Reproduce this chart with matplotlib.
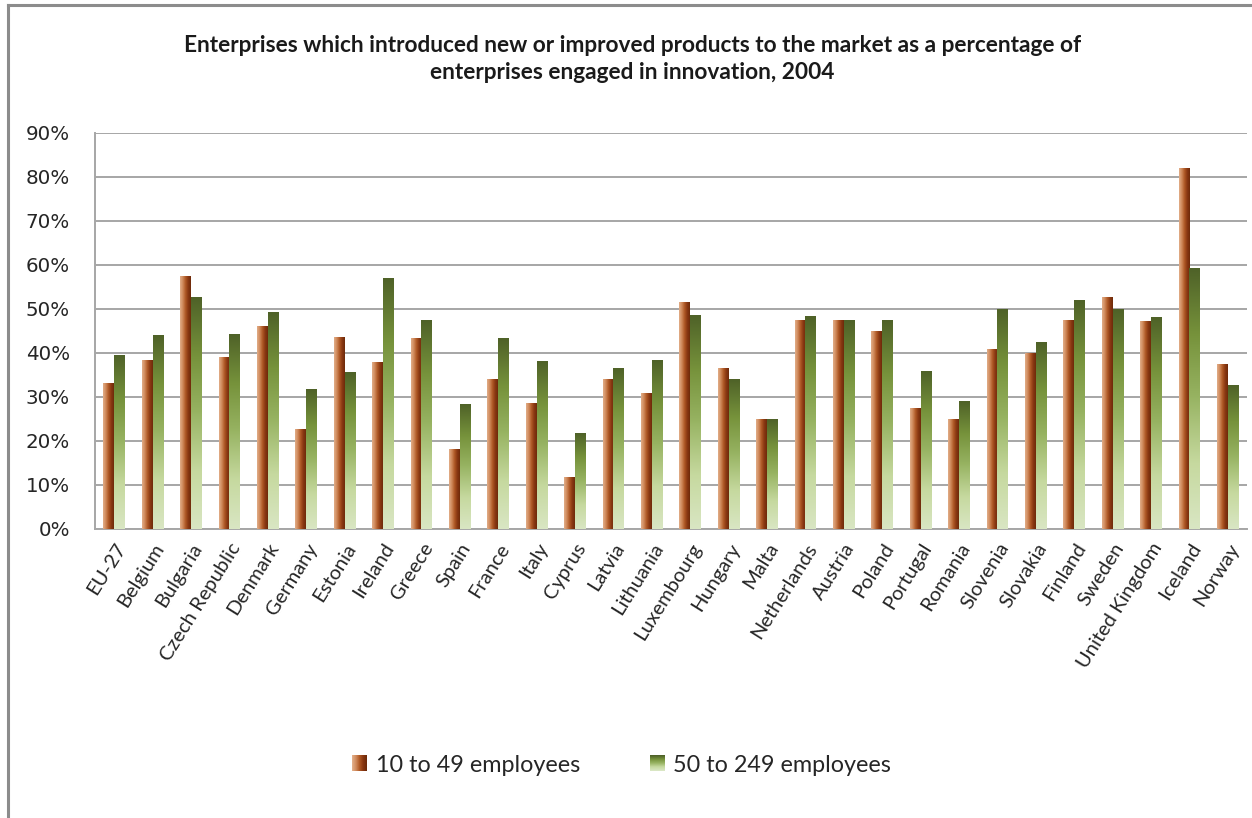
"""Enterprises introducing new or improved products, by size class, 2004."""

import matplotlib

matplotlib.use("Agg")
import matplotlib.pyplot as plt
import numpy as np
from matplotlib.colors import LinearSegmentedColormap
from matplotlib.lines import Line2D
from matplotlib.patches import Rectangle
from matplotlib.ticker import PercentFormatter

COUNTRIES = [
    "EU-27", "Belgium", "Bulgaria", "Czech Republic", "Denmark", "Germany",
    "Estonia", "Ireland", "Greece", "Spain", "France", "Italy", "Cyprus",
    "Latvia", "Lithuania", "Luxembourg", "Hungary", "Malta", "Netherlands",
    "Austria", "Poland", "Portugal", "Romania", "Slovenia", "Slovakia",
    "Finland", "Sweden", "United Kingdom", "Iceland", "Norway",
]
SMALL = [
    33.1, 38.4, 57.3, 39.0, 46.0, 22.7, 43.6, 37.8, 43.2, 18.0, 34.0, 28.6,
    11.6, 33.9, 30.7, 51.4, 36.4, 25.0, 47.5, 47.3, 44.8, 27.5, 25.0, 40.9,
    39.8, 47.5, 52.6, 47.1, 82.0, 37.5,
]
MEDIUM = [
    39.5, 43.9, 52.7, 44.2, 49.2, 31.7, 35.5, 57.0, 47.5, 28.2, 43.4, 38.0,
    21.8, 36.4, 38.4, 48.6, 33.9, 25.0, 48.2, 47.3, 47.3, 35.9, 28.9, 50.0,
    42.5, 52.0, 49.8, 48.0, 59.3, 32.6,
]
SERIES = ["10 to 49 employees", "50 to 249 employees"]

BROWN = LinearSegmentedColormap.from_list(
    "brown", ["#e2ae88", "#d08a5c", "#b05a26", "#8a3812", "#6e2a0a"])
GREEN = LinearSegmentedColormap.from_list(
    "green", ["#d9e6c3", "#c6d99f", "#98b463", "#76923b", "#4f6228"])

H_GRAD = np.linspace(0, 1, 64).reshape(1, -1)
V_GRAD = np.linspace(0, 1, 128).reshape(-1, 1)


def fill_gradient(ax, bars, grad, cmap):
    for rect in bars:
        x0, w, h = rect.get_x(), rect.get_width(), rect.get_height()
        ax.imshow(grad, cmap=cmap, extent=(x0, x0 + w, 0, h), origin="lower",
                  aspect="auto", interpolation="bilinear", zorder=3)


fig = plt.figure(figsize=(12.52, 8.18), dpi=100)
ax = fig.add_axes([95 / 1252, 1 - 529 / 818, 1152 / 1252, 396 / 818])

x = np.arange(len(COUNTRIES))
w = 0.28
b1 = ax.bar(x - w / 2, SMALL, w, color="none", zorder=3)
b2 = ax.bar(x + w / 2, MEDIUM, w, color="none", zorder=3)
fill_gradient(ax, b1, H_GRAD, BROWN)
fill_gradient(ax, b2, V_GRAD, GREEN)

ax.set_xlim(-0.5, len(COUNTRIES) - 0.5)
ax.set_ylim(0, 90)
ax.set_yticks(np.arange(0, 91, 10))
ax.yaxis.set_major_formatter(PercentFormatter(decimals=0))
ax.grid(axis="y", color="#a6a6a6", lw=1.4, zorder=0)
ax.set_axisbelow(True)
for side in ["top", "right"]:
    ax.spines[side].set_visible(False)
for side in ["left", "bottom"]:
    ax.spines[side].set_color("#a6a6a6")
    ax.spines[side].set_linewidth(1.4)
ax.tick_params(axis="both", length=0)
ax.tick_params(axis="y", pad=18, labelsize=14.3, labelcolor="#262626")
ax.set_xticks(x)
ax.set_xticklabels(COUNTRIES, rotation=58, ha="right", rotation_mode="anchor",
                   fontsize=14.5, family="Lato", color="#262626")
ax.tick_params(axis="x", pad=8)

fig.text(0.505, 1 - 59 / 818,
         "Enterprises which introduced new or improved products to the market as a percentage of\n"
         "enterprises engaged in innovation, 2004",
         ha="center", va="center", fontsize=16.3, fontweight="bold",
         family="Lato", linespacing=1.4, color="#1a1a1a")

handles = [Rectangle((0, 0), 1, 1, facecolor="#b8652f"),
           Rectangle((0, 0), 1, 1, facecolor="#76923b")]
leg = fig.legend(handles, SERIES, loc="center", bbox_to_anchor=(0.4965, 1 - 765 / 818),
                 ncol=2, frameon=False, prop={"family": "Lato", "size": 16.8},
                 handlelength=0.65, handleheight=0.65, handletextpad=0.35,
                 columnspacing=3.0, labelcolor="#262626")

# outer chart frame
fig.add_artist(Line2D([8 / 1252, 8 / 1252], [0, 1 - 5 / 818],
                      transform=fig.transFigure, color="#8c8c8c", lw=2.2))
fig.add_artist(Line2D([8 / 1252, 1], [1 - 5 / 818, 1 - 5 / 818],
                      transform=fig.transFigure, color="#8c8c8c", lw=2.2))

# gradient legend swatches painted over the solid handles
fig.canvas.draw()
for patch, grad, cmap in zip(leg.get_patches(), [H_GRAD, V_GRAD], [BROWN, GREEN]):
    bb = patch.get_window_extent()
    pw, ph = max(int(round(bb.width)), 1), max(int(round(bb.height)), 1)
    if grad.shape[0] == 1:
        arr = cmap(np.tile(np.linspace(0, 1, pw), (ph, 1)))
    else:
        arr = cmap(np.tile(np.linspace(1, 0, ph).reshape(-1, 1), (1, pw)))
    img = fig.figimage(arr, xo=int(round(bb.x0)), yo=int(round(bb.y0)), origin="upper")
    img.set_zorder(20)

fig.savefig("out.png", dpi=100)
